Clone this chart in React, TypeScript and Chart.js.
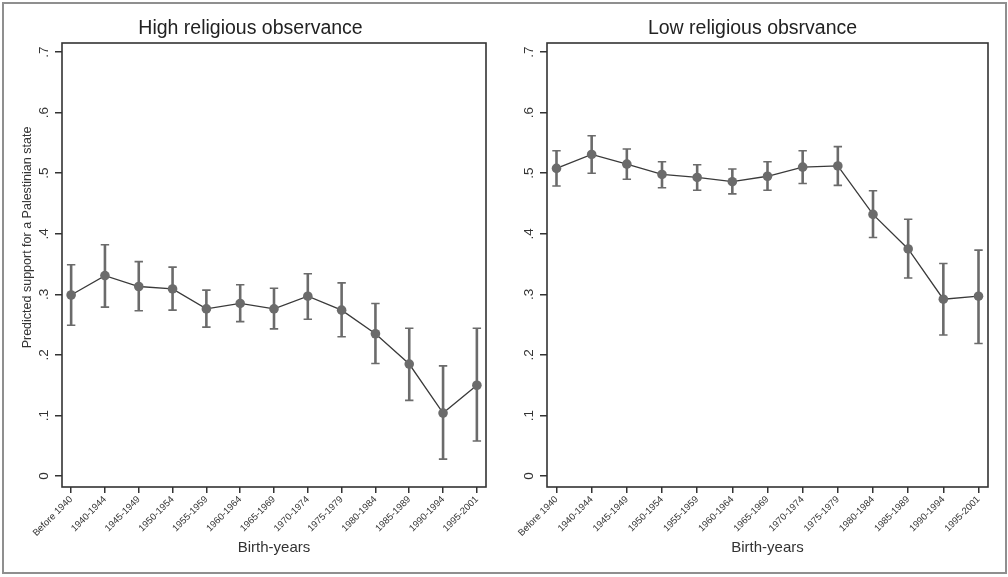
import React, { useEffect, useRef } from "react";
import { Chart, registerables } from "chart.js";

Chart.register(...registerables);

const categories = [
  "Before 1940", "1940-1944", "1945-1949", "1950-1954", "1955-1959", "1960-1964",
  "1965-1969", "1970-1974", "1975-1979", "1980-1984", "1985-1989", "1990-1994", "1995-2001",
];

const highMean = [0.299, 0.331, 0.313, 0.309, 0.276, 0.285, 0.276, 0.297, 0.274, 0.235, 0.185, 0.104, 0.150];
const highLower = [0.249, 0.279, 0.273, 0.274, 0.246, 0.255, 0.243, 0.259, 0.230, 0.186, 0.125, 0.028, 0.058];
const highUpper = [0.349, 0.382, 0.354, 0.345, 0.307, 0.316, 0.310, 0.334, 0.319, 0.285, 0.244, 0.182, 0.244];

const lowMean = [0.508, 0.531, 0.515, 0.498, 0.493, 0.486, 0.495, 0.510, 0.512, 0.432, 0.375, 0.292, 0.297];
const lowLower = [0.479, 0.500, 0.490, 0.476, 0.472, 0.466, 0.472, 0.483, 0.480, 0.394, 0.327, 0.233, 0.219];
const lowUpper = [0.537, 0.562, 0.540, 0.519, 0.514, 0.507, 0.519, 0.537, 0.544, 0.471, 0.424, 0.351, 0.373];

const yTickValues = [0, 0.1, 0.2, 0.3, 0.4, 0.5, 0.6, 0.7];
const yTickLabels = ["0", ".1", ".2", ".3", ".4", ".5", ".6", ".7"];

const titles = ["High religious observance", "Low religious obsrvance"];
const yAxisTitle = "Predicted support for a Palestinian state";
const xAxisTitle = "Birth-years";

const FONT = "'Liberation Sans', Arial, Helvetica, sans-serif";
const MARK = "#6b6b6b";
const INK = "#333333";

type PanelProps = {
  title: string;
  titleX: number;
  mean: number[];
  lower: number[];
  upper: number[];
  showYTitle: boolean;
  yAxisWidth: number;
  rightPad: number;
  left: number;
};

function Panel({ title, titleX, mean, lower, upper, showYTitle, yAxisWidth, rightPad, left }: PanelProps) {
  const ref = useRef<HTMLCanvasElement | null>(null);

  useEffect(() => {
    if (!ref.current) return;

    const decorPlugin = {
      id: "decor",
      beforeDatasetsDraw(chart: any) {
        const ctx = chart.ctx;
        const xs = chart.scales.x;
        const ys = chart.scales.y;
        ctx.save();
        ctx.strokeStyle = MARK;
        for (let i = 0; i < mean.length; i++) {
          const px = xs.getPixelForValue(i);
          const pTop = ys.getPixelForValue(upper[i]);
          const pBot = ys.getPixelForValue(lower[i]);
          ctx.lineWidth = 2.6;
          ctx.beginPath();
          ctx.moveTo(px, pTop);
          ctx.lineTo(px, pBot);
          ctx.stroke();
          ctx.lineWidth = 1.6;
          ctx.beginPath();
          ctx.moveTo(px - 4.2, pTop);
          ctx.lineTo(px + 4.2, pTop);
          ctx.moveTo(px - 4.2, pBot);
          ctx.lineTo(px + 4.2, pBot);
          ctx.stroke();
        }
        ctx.restore();
      },
      afterDraw(chart: any) {
        const ctx = chart.ctx;
        const area = chart.chartArea;
        const ys = chart.scales.y;
        ctx.save();
        ctx.strokeStyle = INK;
        ctx.lineWidth = 1.6;
        ctx.strokeRect(area.left, area.top, area.right - area.left, area.bottom - area.top);
        ctx.fillStyle = "#222";
        ctx.font = `19.5px ${FONT}`;
        ctx.textAlign = "center";
        ctx.textBaseline = "middle";
        ctx.fillText(title, titleX, 29);
        ctx.fillStyle = INK;
        ctx.font = `13.5px ${FONT}`;
        yTickValues.forEach((v, i) => {
          const py = ys.getPixelForValue(v);
          ctx.save();
          ctx.translate(area.left - 18, py);
          ctx.rotate(-Math.PI / 2);
          ctx.fillText(yTickLabels[i], 0, 0);
          ctx.restore();
        });
        if (showYTitle) {
          ctx.font = `12.5px ${FONT}`;
          ctx.save();
          ctx.translate(28, 237.5);
          ctx.rotate(-Math.PI / 2);
          ctx.fillText(yAxisTitle, 0, 0);
          ctx.restore();
        }
        ctx.restore();
      },
    };

    const chart = new Chart(ref.current, {
      type: "line",
      data: {
        datasets: [
          {
            data: mean.map((v, i) => ({ x: i, y: v })),
            borderColor: "#3a3a3a",
            borderWidth: 1.3,
            pointRadius: 4.8,
            pointBackgroundColor: MARK,
            pointBorderWidth: 0,
            tension: 0,
          },
        ],
      },
      options: {
        responsive: false,
        animation: false,
        devicePixelRatio: 1,
        layout: { padding: { left: 0, right: rightPad, top: 43, bottom: 0 } },
        plugins: {
          legend: { display: false },
          tooltip: { enabled: false },
          title: { display: false },
        },
        scales: {
          x: {
            type: "linear",
            min: -0.27,
            max: 12.27,
            afterBuildTicks: (scale: any) => {
              scale.ticks = categories.map((_, i) => ({ value: i }));
            },
            afterFit: (scale: any) => {
              scale.height = 90;
            },
            border: { display: false },
            grid: { drawOnChartArea: false, drawTicks: true, tickLength: 6, color: INK, lineWidth: 1.5 },
            ticks: {
              autoSkip: false,
              minRotation: 45,
              maxRotation: 45,
              padding: 1,
              color: INK,
              font: { family: FONT, size: 9.5 },
              callback: (v: any) => categories[Math.round(Number(v))] ?? "",
            },
            title: {
              display: true,
              text: xAxisTitle,
              color: INK,
              font: { family: FONT, size: 15 },
              padding: { top: 0, bottom: 20 },
            },
          },
          y: {
            type: "linear",
            min: -0.018,
            max: 0.715,
            afterBuildTicks: (scale: any) => {
              scale.ticks = yTickValues.map((v) => ({ value: v }));
            },
            afterFit: (scale: any) => {
              scale.width = yAxisWidth;
            },
            border: { display: false },
            grid: { drawOnChartArea: false, drawTicks: true, tickLength: 7, color: INK, lineWidth: 1.5 },
            ticks: { display: false },
          },
        },
      },
      plugins: [decorPlugin],
    } as any);

    return () => chart.destroy();
  }, []);

  return (
    <canvas
      ref={ref}
      width={504}
      height={577}
      style={{ position: "absolute", left, top: 0, width: 504, height: 577 }}
    />
  );
}

export default function App() {
  return (
    <div
      style={{
        position: "absolute",
        left: 0,
        top: 0,
        width: 1008,
        height: 577,
        background: "#fff",
        overflow: "hidden",
      }}
    >
      <Panel
        title={titles[0]}
        titleX={250.5}
        mean={highMean}
        lower={highLower}
        upper={highUpper}
        showYTitle={true}
        yAxisWidth={62}
        rightPad={18}
        left={0}
      />
      <Panel
        title={titles[1]}
        titleX={248.5}
        mean={lowMean}
        lower={lowLower}
        upper={lowUpper}
        showYTitle={false}
        yAxisWidth={43}
        rightPad={20}
        left={504}
      />
      <div
        style={{
          position: "absolute",
          left: 2,
          top: 2,
          width: 1005,
          height: 572,
          boxSizing: "border-box",
          border: "2.5px solid #8f8f8f",
          pointerEvents: "none",
        }}
      />
    </div>
  );
}
